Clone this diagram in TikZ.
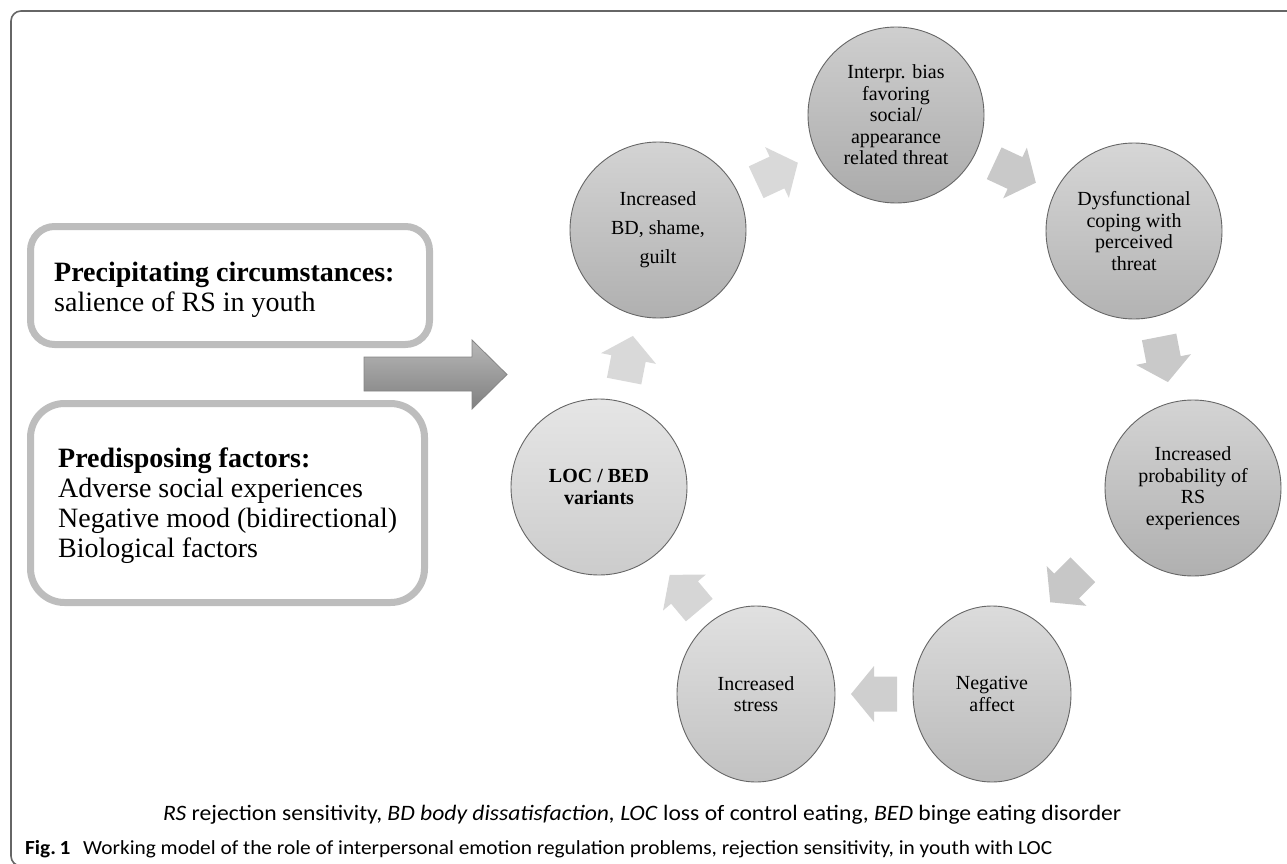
\documentclass[tikz,border=0pt]{standalone}
\usepackage{fontspec}
\setmainfont{Liberation Serif}
\newfontfamily\capfont{Carlito}
\usetikzlibrary{shapes.geometric,calc}
\tikzset{
  cycarrow/.pic={\path[fill=#1] (-23,-17.5) -- (0,-17.5) -- (0,-28) -- (23,0) -- (0,28) -- (0,17.5) -- (-23,17.5) -- cycle;},
  cycarrow/.default={black!18}
}
\begin{document}
\begin{tikzpicture}[x=1pt,y=-1pt,
  frame/.style={line width=1.6pt, draw=black!60},
  box/.style={draw=black!26, line width=7pt, inner sep=0, fill=white},
  lbl/.style={inner sep=0, align=left, anchor=north west, font=\rmfamily\fontsize{28}{30}\selectfont},
  cyc/.style={ellipse, draw=black!60, line width=0.9pt, minimum width=176, minimum height=176,
    inner sep=0, align=center, font=\rmfamily\fontsize{20}{21.5}\selectfont},
  capA/.style={inner sep=0, anchor=base west, font=\capfont\fontsize{22}{24}\selectfont},
  capB/.style={inner sep=0, anchor=base west, font=\capfont\fontsize{20}{22}\selectfont}
]
\useasboundingbox (0,0) rectangle (1287,864);
% frame
\begin{scope}
  \clip (0,0) rectangle (1287,864);
  \draw[frame, rounded corners=10pt] (11,11) rectangle (1310,866);
\end{scope}

% left boxes
\node[box, minimum width=399, minimum height=118, rounded corners=24pt] (precip) at (230,285.5) {};
\node[lbl] (ptext) at (54,261.5) {\textbf{Precipitating circumstances:}\\salience of RS in youth};
\node[box, minimum width=394, minimum height=199, rounded corners=34pt] (predis) at (227.5,503) {};
\node[lbl] (dtext) at (58,447.5) {\textbf{Predisposing factors:}\\Adverse social experiences\\Negative mood (bidirectional)\\Biological factors};

% big arrow
\shade[top color=black!28, bottom color=black!50, draw=black!48, line width=0.8pt]
  (364,357) -- (472,357) -- (472,340) -- (507,374.5) -- (472,409) -- (472,391) -- (364,391) -- cycle;

% cycle circles
\node[cyc, top color=black!17, bottom color=black!31, font=\rmfamily\fontsize{20}{29}\selectfont] (c1) at (658,230) {Increased\\BD, shame,\\guilt};
\node[cyc, top color=black!19, bottom color=black!33] (c2) at (896,115) {Interpr. bias\\favoring\\social/\\appearance\\related threat};
\node[cyc, top color=black!16, bottom color=black!30] (c3) at (1134,231) {Dysfunctional\\coping with\\perceived\\threat};
\node[cyc, top color=black!17, bottom color=black!31] (c4) at (1193,488) {Increased\\probability of\\RS\\experiences};
\node[cyc, minimum width=158, top color=black!14, bottom color=black!27] (c5) at (992,694) {Negative\\affect};
\node[cyc, minimum width=158, top color=black!12, bottom color=black!24] (c6) at (756,694) {Increased\\stress};
\node[cyc, top color=black!10, bottom color=black!20, font=\rmfamily\bfseries\fontsize{20}{22}\selectfont] (c7) at (599,487) {LOC / BED\\variants};

% cycle arrows
\pic[rotate=79] at ($(c7)!0.5!(c1)$) {cycarrow={black!15}};
\pic[rotate=25] at ($(c1)!0.5!(c2)$) {cycarrow={black!15}};
\pic[rotate=-25] at ($(c2)!0.5!(c3)$) {cycarrow={black!21}};
\pic[rotate=-79] at ($(c3)!0.5!(c4)$) {cycarrow={black!21}};
\pic[rotate=-135] at ($(c4)!0.5!(c5)+(-26,-5)$) {cycarrow={black!22}};
\pic[rotate=180] at ($(c5)!0.5!(c6)$) {cycarrow={black!19}};
\pic[rotate=130] at ($(c6)!0.5!(c7)+(7,2)$) {cycarrow={black!16}};

% captions
\node[capA] (cap1) at (163,820) {\resizebox{958pt}{\height}{\textit{RS} rejection sensitivity, \textit{BD body dissatisfaction, LOC} loss of control eating, \textit{BED} binge eating disorder}};
\node[capB] (cap2) at (25,854) {\resizebox{1027pt}{\height}{\textbf{Fig.\,1}\hspace{0.6em}Working model of the role of interpersonal emotion regulation problems, rejection sensitivity, in youth with LOC}};
\end{tikzpicture}
\end{document}
